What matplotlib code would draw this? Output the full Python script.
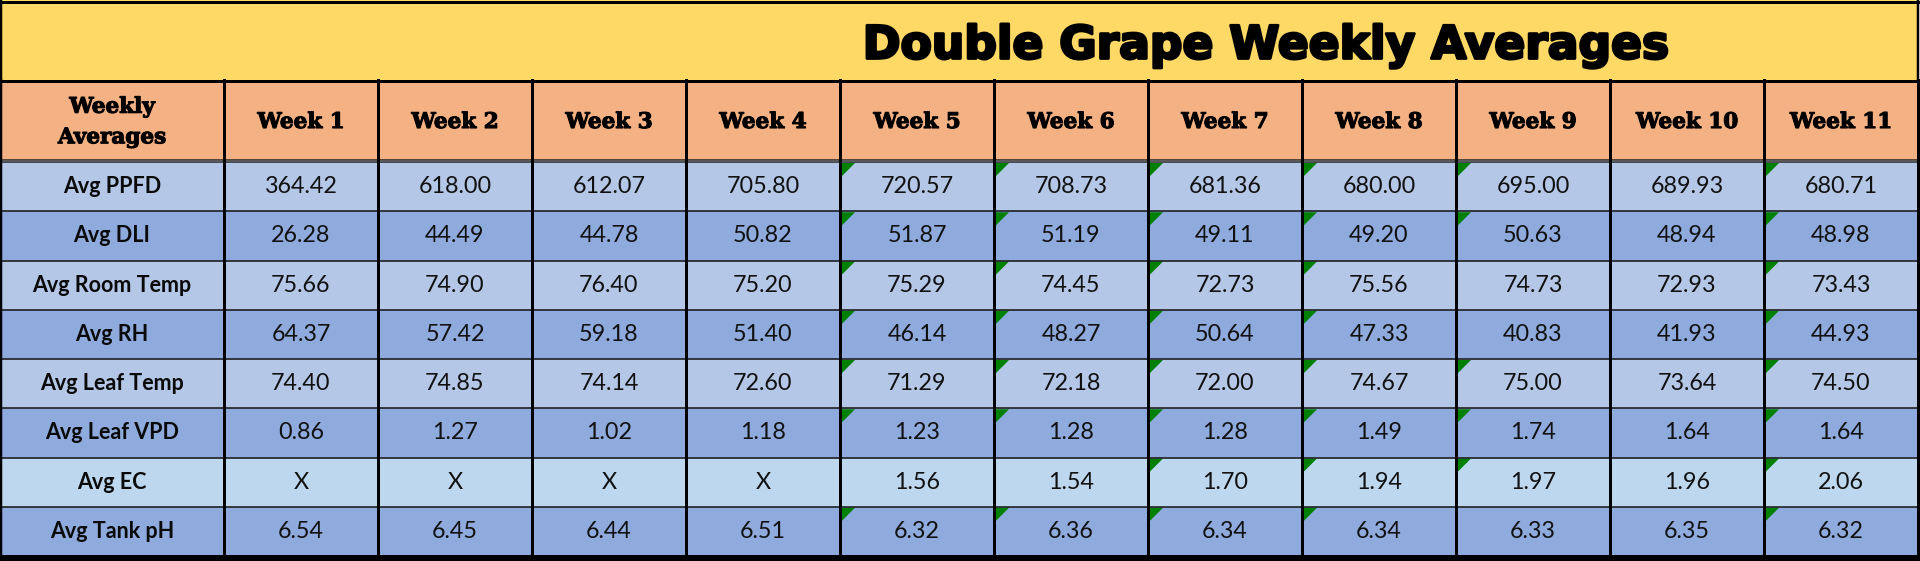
import matplotlib
matplotlib.use("Agg")
import matplotlib.pyplot as plt
from matplotlib.patches import Rectangle, Polygon
import matplotlib.patheffects as pe

# ---------------- data ----------------
title = "Double Grape Weekly Averages"
corner_label = "Weekly\nAverages"
weeks = ["Week 1", "Week 2", "Week 3", "Week 4", "Week 5", "Week 6",
         "Week 7", "Week 8", "Week 9", "Week 10", "Week 11"]
metrics = ["Avg PPFD", "Avg DLI", "Avg Room Temp", "Avg RH",
           "Avg Leaf Temp", "Avg Leaf VPD", "Avg EC", "Avg Tank pH"]

avg_ppfd = [364.42, 618.00, 612.07, 705.80, 720.57, 708.73, 681.36, 680.00, 695.00, 689.93, 680.71]
avg_dli = [26.28, 44.49, 44.78, 50.82, 51.87, 51.19, 49.11, 49.20, 50.63, 48.94, 48.98]
avg_room_temp = [75.66, 74.90, 76.40, 75.20, 75.29, 74.45, 72.73, 75.56, 74.73, 72.93, 73.43]
avg_rh = [64.37, 57.42, 59.18, 51.40, 46.14, 48.27, 50.64, 47.33, 40.83, 41.93, 44.93]
avg_leaf_temp = [74.40, 74.85, 74.14, 72.60, 71.29, 72.18, 72.00, 74.67, 75.00, 73.64, 74.50]
avg_leaf_vpd = [0.86, 1.27, 1.02, 1.18, 1.23, 1.28, 1.28, 1.49, 1.74, 1.64, 1.64]
avg_ec = [None, None, None, None, 1.56, 1.54, 1.70, 1.94, 1.97, 1.96, 2.06]
avg_tank_ph = [6.54, 6.45, 6.44, 6.51, 6.32, 6.36, 6.34, 6.34, 6.33, 6.35, 6.32]

# weeks whose cell shows the green corner marker, per metric row
flagged_weeks = [
    [5, 6, 7, 8, 9, 11],
    [5, 6, 7, 8, 9, 11],
    [5, 6, 7, 8, 11],
    [5, 6, 7, 8, 11],
    [5, 6, 7, 8, 9, 11],
    [5, 6, 7, 8, 9, 11],
    [7, 8, 9, 11],
    [5, 6, 7, 8, 11],
]

rows = [avg_ppfd, avg_dli, avg_room_temp, avg_rh, avg_leaf_temp,
        avg_leaf_vpd, avg_ec, avg_tank_ph]

# ---------------- style / layout ----------------
W, H = 1920, 561
first_w = 224
col_w = 154
title_h = 80
header_top, header_bot = 82, 160
body_top = 162
row_h = 49.25

c_title = "#FFD966"
c_header = "#F4B183"
c_light = "#B4C7E7"
c_dark = "#8FAADC"
c_ec = "#BDD7EE"
row_colors = [c_light, c_dark, c_light, c_dark, c_light, c_dark, c_ec, c_dark]
px = 0.72  # points per pixel at dpi 100

fig = plt.figure(figsize=(W / 100, H / 100), dpi=100)
fig.patch.set_facecolor("white")
ax = fig.add_axes([0, 0, 1, 1])
ax.set_xlim(0, W)
ax.set_ylim(H, 0)
ax.axis("off")

table_right = first_w + col_w * len(weeks)

# title bar
ax.add_patch(Rectangle((0, 0), table_right, title_h + 2, facecolor=c_title,
                       edgecolor="none"))
ax.plot([0, table_right], [1.5, 1.5], color="black", lw=3 * px)
ax.plot([1, 1], [0, title_h], color="black", lw=2.5 * px)
ax.plot([table_right, table_right], [0, title_h], color="black", lw=2.5 * px)
ax.text(1266, 41, title, ha="center", va="center_baseline", fontsize=32.8,
        family=["DejaVu Sans"], fontweight="bold",
        color="black",
        path_effects=[pe.withStroke(linewidth=2.0, foreground="black")])

# header row
ax.add_patch(Rectangle((0, header_top), table_right, header_bot - header_top,
                       facecolor=c_header, edgecolor="none"))
hy = (header_top + header_bot) / 2
ax.text(first_w / 2, hy + 1, corner_label, ha="center", va="center",
        fontsize=15.5, family="DejaVu Serif", fontweight="bold",
        linespacing=1.5,
        path_effects=[pe.withStroke(linewidth=0.8, foreground="black")])
for j, wk in enumerate(weeks):
    cx = first_w + col_w * (j + 0.5)
    ax.text(cx, hy + 1, wk, ha="center", va="center", fontsize=15.5,
            family="DejaVu Serif", fontweight="bold",
            path_effects=[pe.withStroke(linewidth=0.8, foreground="black")])

# body rows
for i, (name, vals) in enumerate(zip(metrics, rows)):
    y0 = body_top + i * row_h
    cy = y0 + row_h / 2
    ax.add_patch(Rectangle((0, y0), table_right, row_h,
                           facecolor=row_colors[i], edgecolor="none"))
    ax.text(first_w / 2, cy, name, ha="center", va="center", fontsize=15.5,
            family="Lato", fontweight="bold", color="#0a0a0a")
    for j, v in enumerate(vals):
        cx = first_w + col_w * (j + 0.5)
        s = "X" if v is None else f"{v:.2f}"
        ax.text(cx, cy, s, ha="center", va="center", fontsize=16.8,
                family="Lato", color="#111111")
        if (j + 1) in flagged_weeks[i]:
            x0 = first_w + col_w * j + 2
            ax.add_patch(Polygon([(x0, y0 + 1), (x0 + 13, y0 + 1), (x0, y0 + 14)],
                                 closed=True, facecolor="#008000",
                                 edgecolor="none", zorder=4))

# horizontal lines
ax.plot([0, table_right], [title_h + 1, title_h + 1], color="black", lw=3 * px, zorder=5)
ax.plot([0, table_right], [header_bot, header_bot], color="#222222", lw=1.5 * px, zorder=5)
ax.plot([0, table_right], [body_top, body_top], color="#222222", lw=1.5 * px, zorder=5)
for i in range(1, len(metrics)):
    y = body_top + i * row_h
    ax.plot([0, table_right], [y, y], color="#1a1a1a", lw=1.6 * px, zorder=5)
ax.add_patch(Rectangle((0, 555), W, H - 555, facecolor="black", edgecolor="none", zorder=6))

# vertical lines
xs = [1, first_w] + [first_w + col_w * (j + 1) for j in range(len(weeks))]
for k, x in enumerate(xs):
    ax.plot([x, x], [title_h, 556], color="black",
            lw=(2.5 if k == 0 else 3) * px, zorder=5)

fig.savefig("out.png", dpi=100, facecolor="white")
